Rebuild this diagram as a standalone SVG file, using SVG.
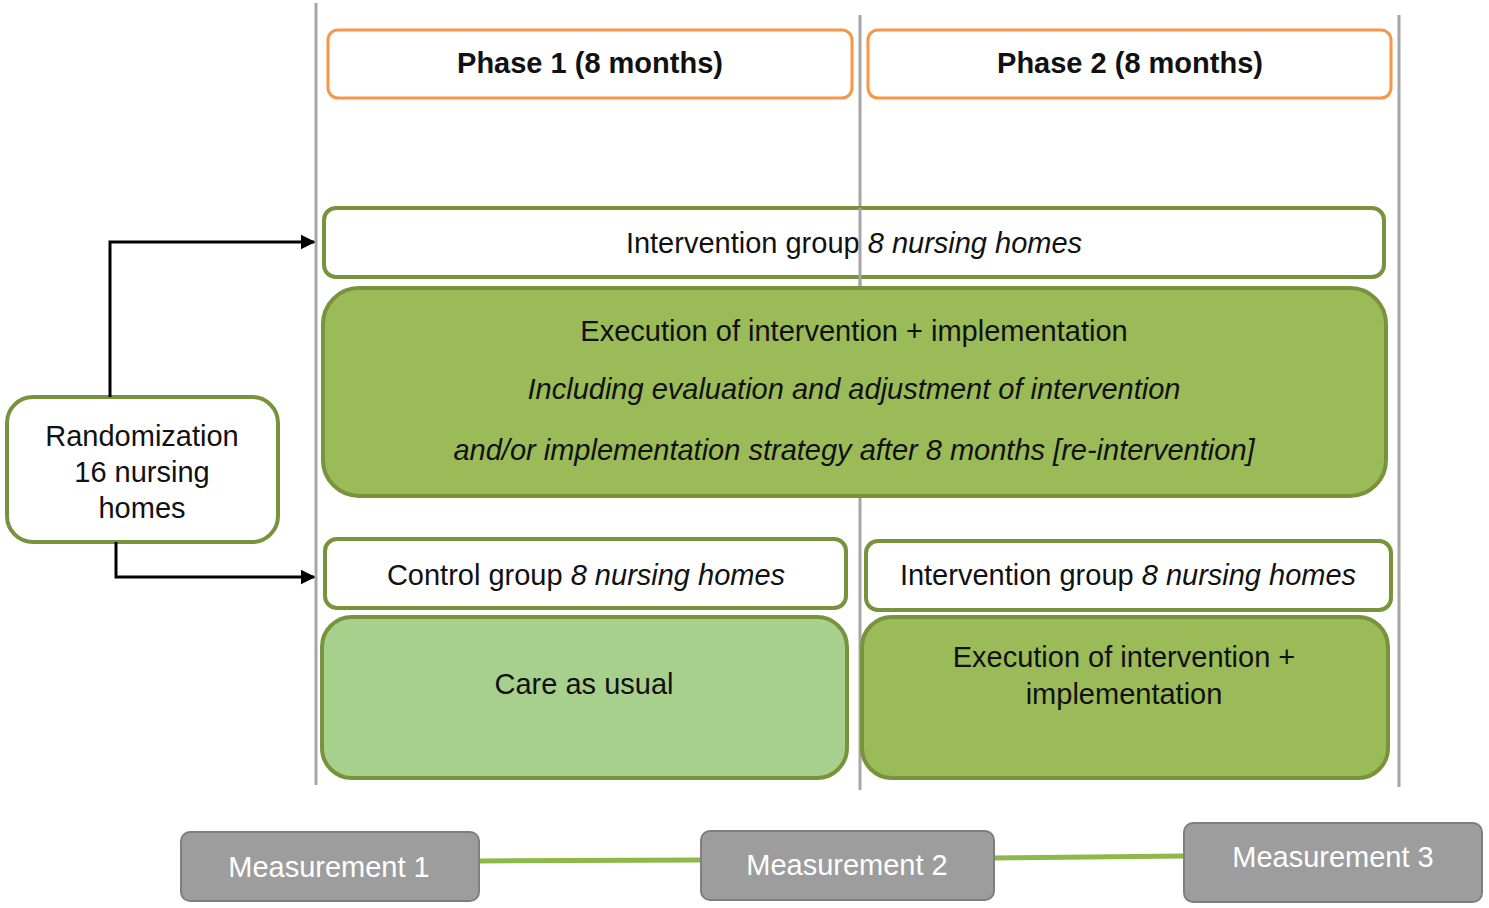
<svg xmlns="http://www.w3.org/2000/svg" width="1489" height="908" viewBox="0 0 1489 908">
<defs>
<style>
text{font-family:"Liberation Sans",Arial,sans-serif;font-size:29px;fill:#111;text-anchor:middle}
.b{font-weight:bold}
.i{font-style:italic}
.w{fill:#fff}
.phase{fill:#fff;stroke:#F79646;stroke-width:3}
.grp{fill:#fff;stroke:#77933C;stroke-width:4}
.dark{fill:#9BBB59;stroke:#77933C;stroke-width:4}
.light{fill:#A8D08D;stroke:#77933C;stroke-width:4}
.meas{fill:#9D9D9D;stroke:#7F7F7F;stroke-width:2}
.vline{stroke:#A6A6A6;stroke-width:3}
.conn{fill:none;stroke:#000;stroke-width:3}
.glink{stroke:#8DB84A;stroke-width:5}
</style>
<marker id="arr" viewBox="0 0 10 10" refX="9" refY="5" markerWidth="5" markerHeight="5" orient="auto" markerUnits="strokeWidth">
<path d="M0,0 L10,5 L0,10 z" fill="#000"/>
</marker>
</defs>
<rect width="1489" height="908" fill="#fff"/>
<g id="gridlines">
<line class="vline" x1="316" y1="3" x2="316" y2="785"/>
<line class="vline" x1="860" y1="15" x2="860" y2="790"/>
<line class="vline" x1="1399" y1="15" x2="1399" y2="787"/>
</g>
<g id="phase1"><rect class="phase" x="328" y="30" width="524" height="68" rx="10"/><text class="b" x="590" y="73">Phase 1 (8 months)</text></g>
<g id="phase2"><rect class="phase" x="868" y="30" width="523" height="68" rx="10"/><text class="b" x="1130" y="73">Phase 2 (8 months)</text></g>
<g id="intervention-top"><rect class="grp" x="324" y="208" width="1060" height="69" rx="12"/><text x="854" y="253">Intervention group <tspan class="i">8 nursing homes</tspan></text></g>
<line class="vline" x1="860" y1="208" x2="860" y2="290"/>
<g id="execution-top"><rect class="dark" x="323" y="288" width="1063" height="208" rx="36"/>
<text x="854" y="341">Execution of intervention + implementation</text>
<text class="i" x="854" y="399">Including evaluation and adjustment of intervention</text>
<text class="i" x="854" y="460">and/or implementation strategy after 8 months [re-intervention]</text></g>
<g id="randomization"><rect class="grp" x="7" y="397" width="271" height="145" rx="26"/>
<text x="142" y="446">Randomization</text><text x="142" y="482">16 nursing</text><text x="142" y="518">homes</text></g>
<g id="control"><rect class="grp" x="325" y="539" width="521" height="69" rx="12"/><text x="586" y="585">Control group <tspan class="i">8 nursing homes</tspan></text></g>
<g id="intervention-right"><rect class="grp" x="866" y="541" width="525" height="69" rx="12"/><text x="1128" y="585">Intervention group <tspan class="i">8 nursing homes</tspan></text></g>
<g id="care"><rect class="light" x="322" y="617" width="525" height="161" rx="30"/><text x="584" y="694">Care as usual</text></g>
<g id="execution-right"><rect class="dark" x="862" y="617" width="526" height="161" rx="30"/><text x="1124" y="667">Execution of intervention +</text><text x="1124" y="704">implementation</text></g>
<g id="connectors">
<path class="conn" d="M110,397 V242 H314" marker-end="url(#arr)"/>
<path class="conn" d="M116,542 V577 H314" marker-end="url(#arr)"/>
<line class="glink" x1="479" y1="861" x2="701" y2="860"/>
<line class="glink" x1="994" y1="858" x2="1184" y2="856"/>
</g>
<g id="m1"><rect class="meas" x="181" y="832" width="298" height="69" rx="9"/><text class="w" x="329" y="877">Measurement 1</text></g>
<g id="m2"><rect class="meas" x="701" y="831" width="293" height="69" rx="9"/><text class="w" x="847" y="875">Measurement 2</text></g>
<g id="m3"><rect class="meas" x="1184" y="823" width="298" height="79" rx="9"/><text class="w" x="1333" y="867">Measurement 3</text></g>
</svg>
